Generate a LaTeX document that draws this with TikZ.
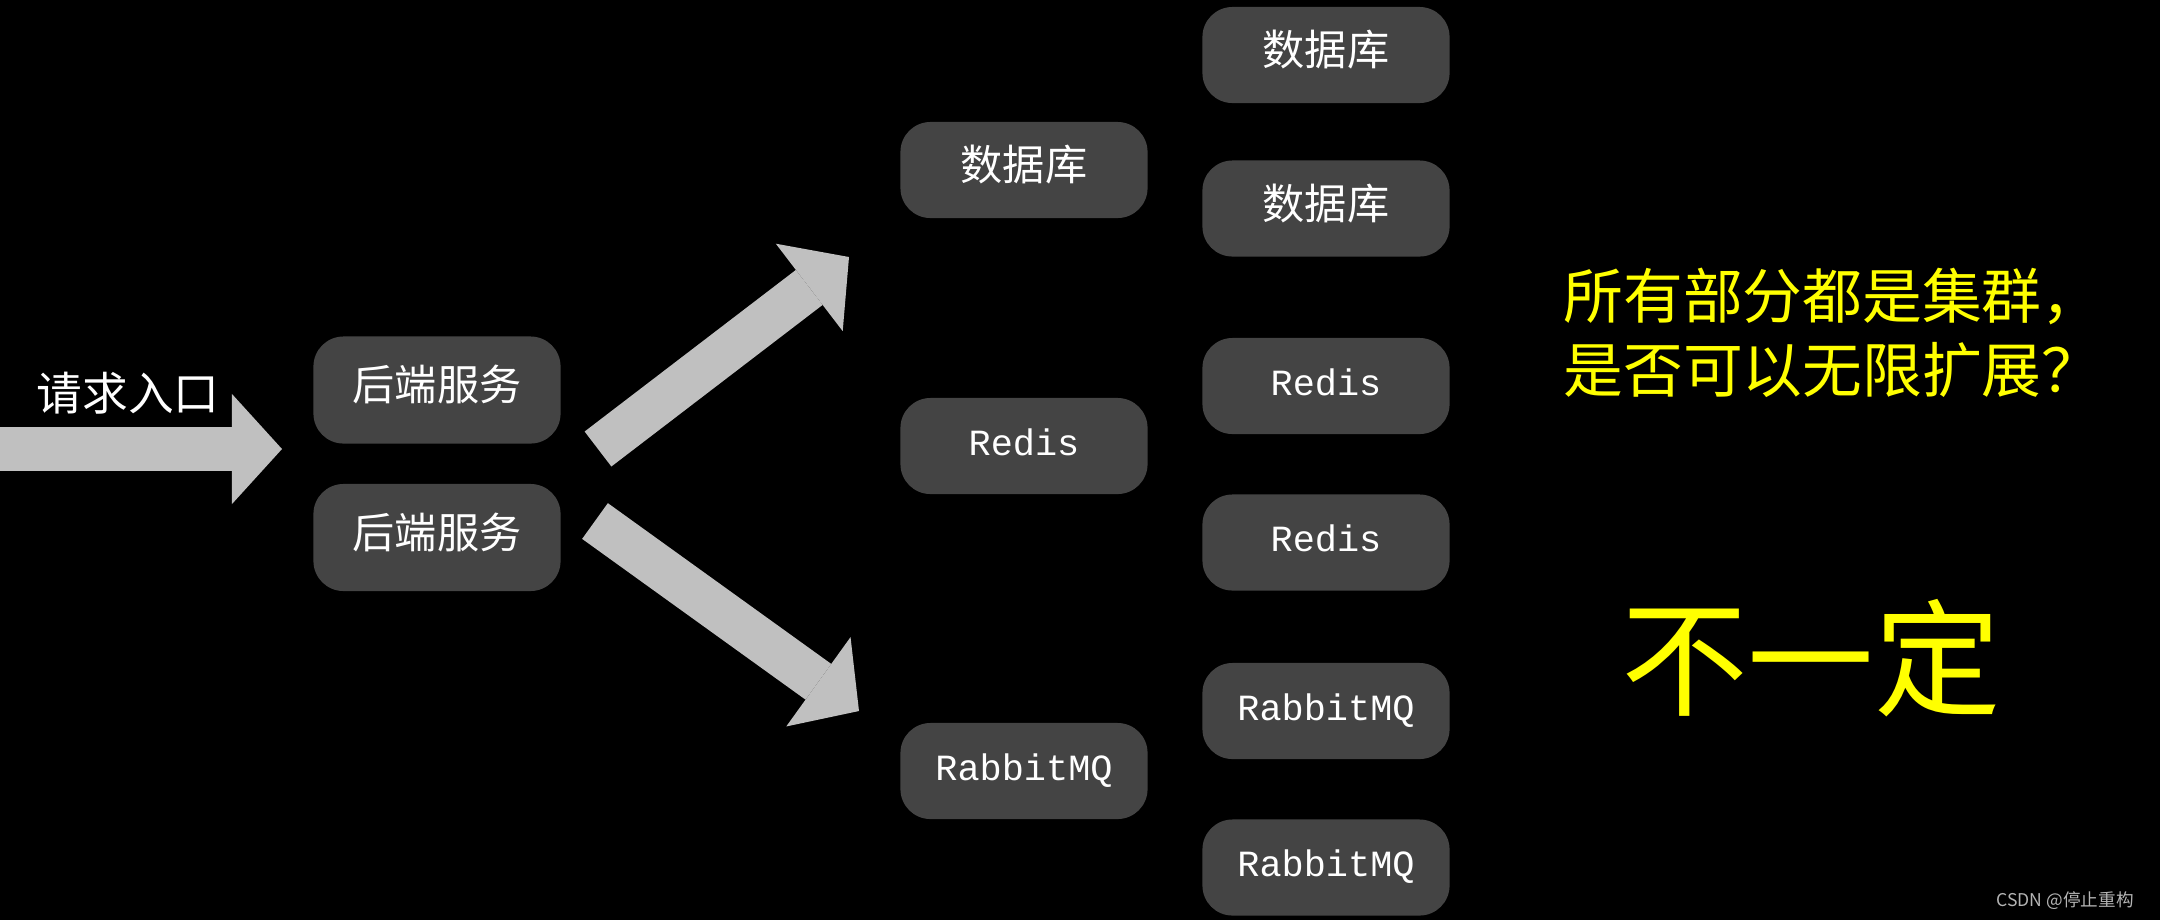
\documentclass[tikz,border=0pt]{standalone}
\usepackage{fontspec}
\setmainfont{Noto Sans CJK SC}
\newfontfamily\monofont{Liberation Mono}
\usetikzlibrary{arrows.meta, positioning}
\definecolor{boxFill}{HTML}{444444}
\definecolor{arrowGray}{HTML}{C0C0C0}
\definecolor{noteYellow}{HTML}{FFFF00}
\definecolor{markGray}{HTML}{B4B4B4}

\begin{document}
\begin{tikzpicture}[
    x=0.01cm, y=-0.01cm,
    box/.style={
        rectangle, rounded corners=0.3cm,
        fill=boxFill, text=white,
        minimum width=2.47cm, minimum height=0.96cm,
        text height=0.37cm, text depth=0.16cm,
        inner sep=0pt, font=\fontsize{12}{14}\selectfont
    },
    svc/.style={box, minimum height=1.07cm},
    mono/.style={font=\monofont\fontsize{10.5}{12}\selectfont, text height=0.3cm, text depth=0.12cm},
    fatarrow/.style={
        draw=arrowGray, line width=0.44cm,
        -{Triangle[length=0.5cm, width=1.1cm, line width=0pt]}
    },
    note/.style={text=noteYellow, align=left, font=\fontsize{17}{21}\selectfont}
]
    % background
    \useasboundingbox (0,0) rectangle (2160,920);
    \fill[black] (0,0) rectangle (2160,920);

    % entry
    \node[text=white, font=\fontsize{13}{15}\selectfont] (entry) at (128,393) {请求入口};
    \coordinate (inTail) at (0,449);
    \coordinate (inTip) at (282,449);
    \draw[fatarrow] (inTail) -- (inTip);

    % backend services
    \node[svc] (back1) at (437,390) {后端服务};
    \node[svc, below=0.39cm of back1] (back2) {后端服务};

    % middle column
    \node[box] (db) at (1024,170) {数据库};
    \node[box, mono] (redis) at (1024,446) {Redis};
    \node[box, mono] (mq) at (1024,771) {RabbitMQ};

    % right column
    \node[box] (db1) at (1326,55) {数据库};
    \node[box, below=0.56cm of db1] (db2) {数据库};
    \node[box, mono] (redis1) at (1326,386) {Redis};
    \node[box, mono, below=0.59cm of redis1] (redis2) {Redis};
    \node[box, mono] (mq1) at (1326,711) {RabbitMQ};
    \node[box, mono, below=0.59cm of mq1] (mq2) {RabbitMQ};

    % fan-out arrows
    \coordinate (upTail) at (598,449);
    \coordinate (upTip) at (849,257);
    \coordinate (downTail) at (595,521);
    \coordinate (downTip) at (859,711);
    \draw[fatarrow] (upTail) -- (upTip);
    \draw[fatarrow] (downTail) -- (downTip);

    % question
    \node[note, anchor=west] (question) at (1551,333) {所有部分都是集群，\\是否可以无限扩展？};
    \node[text=noteYellow, font=\fontsize{36}{40}\selectfont] (answer) at (1811,658) {不一定};

    \node[text=markGray, font=\fontsize{5}{6}\selectfont, anchor=east] (mark) at (2146,901) {CSDN @停止重构};
\end{tikzpicture}
\end{document}
